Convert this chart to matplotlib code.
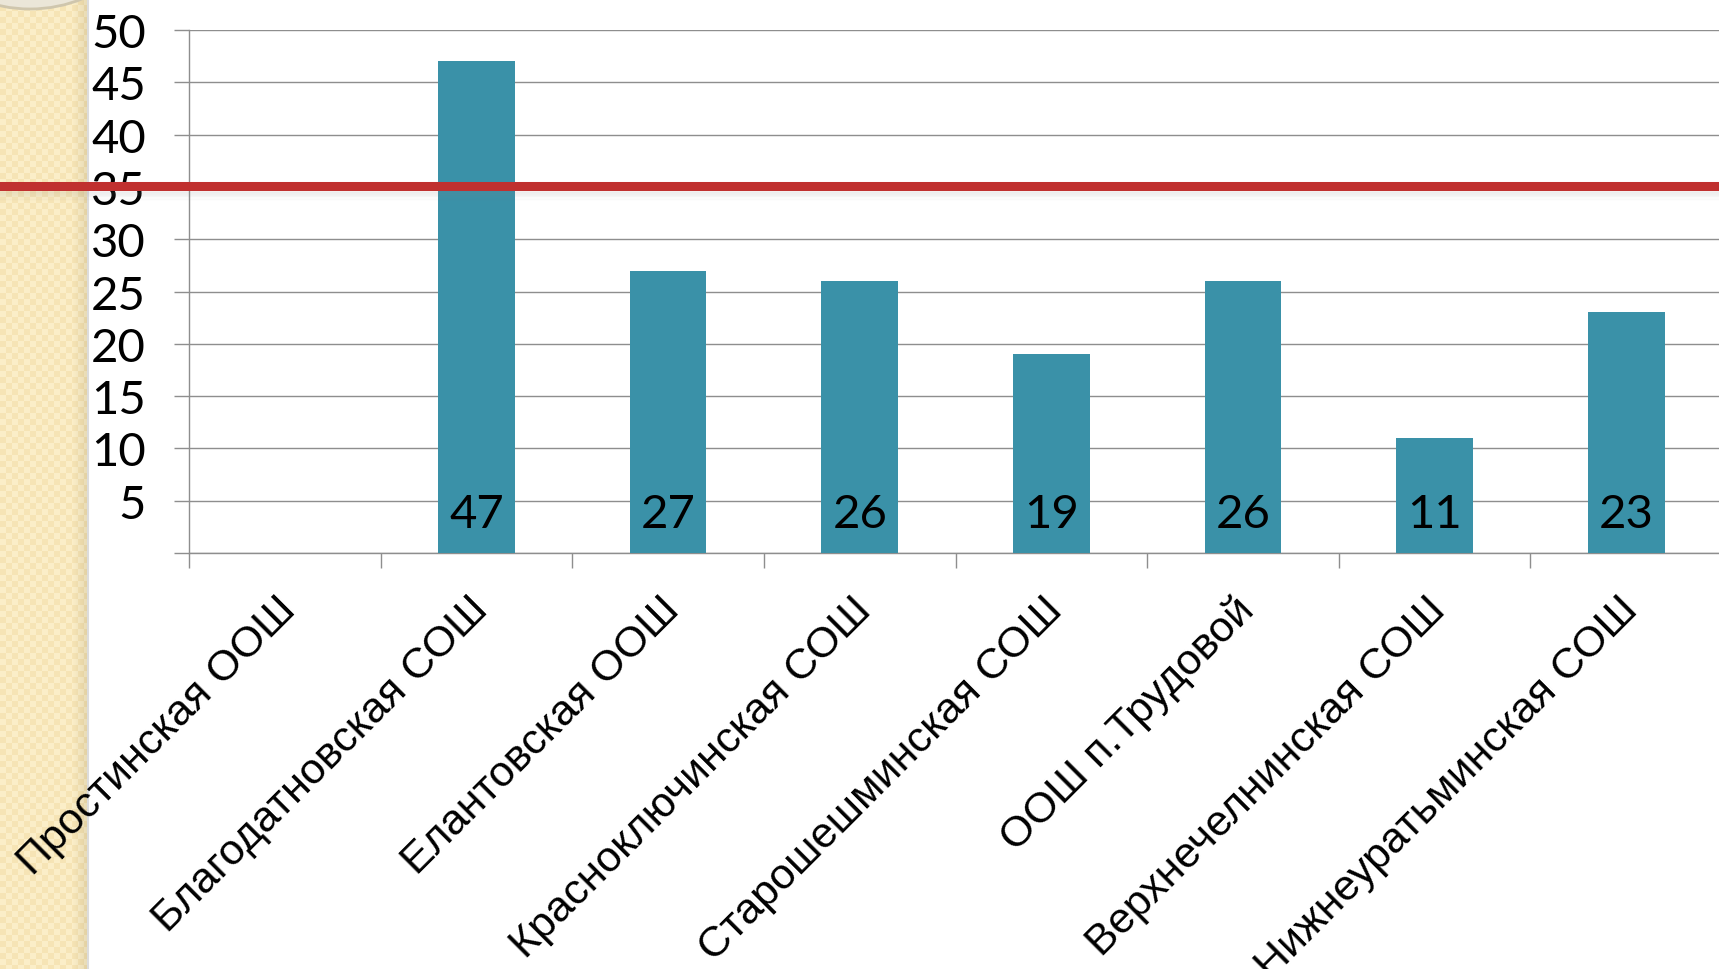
import numpy as np
import matplotlib
matplotlib.use("Agg")
import matplotlib.pyplot as plt
import matplotlib.transforms as mtransforms
from matplotlib.patches import Ellipse

schools = [
    "Простинская ООШ",
    "Благодатновская СОШ",
    "Елантовская ООШ",
    "Красноключинская СОШ",
    "Старошешминская СОШ",
    "ООШ п.Трудовой",
    "Верхнечелнинская СОШ",
    "Нижнеуратьминская СОШ",
]
values = [np.nan, 47, 27, 26, 19, 26, 11, 23]
threshold = 35
y_ticks = list(range(0, 55, 5))

BAR_COLOR = "#3a91a8"
GRID_COLOR = "#8e8e8e"
RED = "#c0302f"

W, H = 1719, 970
fig = plt.figure(figsize=(W / 100, H / 100), dpi=100)
fig.patch.set_facecolor("white")

# beige patterned strip on the left
SW = 88
strip = fig.add_axes([0, 0, SW / W, 1], zorder=-2)
yy, xx = np.mgrid[0:H, 0:SW]
base = np.array([246, 228, 181]) / 255
light = np.array([251, 238, 200]) / 255
check = ((xx // 6 + yy // 6) % 2 == 0)
img = np.where(check[..., None], light, base)
shade = np.clip((xx - 72) / 16, 0, 1)[..., None] * 0.08
img = np.clip(img - shade, 0, 1)
strip.imshow(img, aspect="auto", interpolation="nearest", extent=(0, 1, 0, 1))
strip.set_xlim(0, 1)
strip.set_ylim(0, 1)
strip.axis("off")
strip.add_patch(Ellipse((30 / SW, 1 + 130 / H), 280 / SW, 280 / H,
                        facecolor="#ebe6d8", edgecolor="#cfc6ad", lw=2))
strip.plot([1, 1], [0, 1], color="#dcdcdc", lw=1.5, clip_on=False)

ax = fig.add_axes([189 / W, 416 / H, 1533 / W, 523 / H], zorder=5)
ax.patch.set_alpha(0)
x = np.arange(len(schools))
ax.bar(x, values, width=0.4, color=BAR_COLOR, zorder=3)

for xi, v in zip(x, values):
    if np.isnan(v):
        continue
    ax.annotate(f"{int(v)}", (xi, 0), xytext=(0, 28), textcoords="offset points",
                ha="center", va="center", fontsize=34, family="Lato", zorder=4)

ax.set_xlim(-0.5, len(schools) - 0.5)
ax.set_ylim(0, 50)
ax.set_yticks(y_ticks)
ax.set_yticklabels(["" if t == 0 else str(t) for t in y_ticks], fontsize=34, family="Lato")
ax.tick_params(axis="y", length=11, width=1, color=GRID_COLOR, pad=20)
ax.grid(axis="y", color=GRID_COLOR, lw=1.0, zorder=0)

ax.set_xticks(x)
ax.set_xticklabels(schools, rotation=45, ha="right", va="top", rotation_mode="anchor",
                   fontsize=31, family="Liberation Sans")
ax.tick_params(axis="x", which="major", length=0, pad=26)
shift = mtransforms.ScaledTranslation(-9 / 100, 0, fig.dpi_scale_trans)
for lab in ax.get_xticklabels():
    lab.set_transform(lab.get_transform() + shift)
ax.set_xticks(np.arange(-0.5, len(schools), 1.0), minor=True)
ax.tick_params(axis="x", which="minor", length=11, width=1, color=GRID_COLOR)

for side in ["top", "right"]:
    ax.spines[side].set_visible(False)
for side in ["left", "bottom"]:
    ax.spines[side].set_color(GRID_COLOR)
    ax.spines[side].set_linewidth(1.0)

# threshold line with soft shadow, across the full slide width
xmin = -189 / 1533
for i in range(8):
    ax.axhline(threshold - 0.45 - i * 0.11, xmin=xmin, xmax=1, color="#808080",
               alpha=0.09 - i * 0.01, lw=1.2, clip_on=False, zorder=5)
ax.axhline(threshold + 0.1, xmin=xmin, xmax=1, color=RED, lw=6.5,
           clip_on=False, zorder=6)

fig.savefig("out.png", dpi=100)
